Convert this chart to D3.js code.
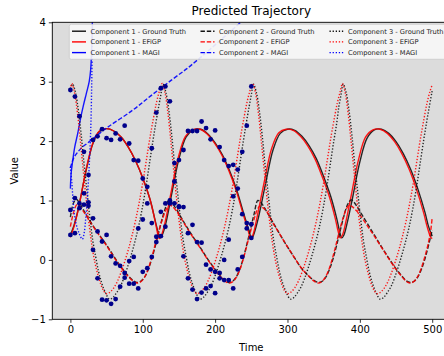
<!DOCTYPE html>
<html>
<head>
<meta charset="utf-8">
<script src="https://cdn.jsdelivr.net/npm/d3@7/dist/d3.min.js"></script>
<style>
  body { margin: 0; background: #fff; }
  text { font-family: "DejaVu Sans", sans-serif; }
</style>
</head>
<body>
<svg id="chart" width="444" height="356"></svg>
<script>
// ---- data ----
const xTicks = [0, 100, 200, 300, 400, 500];
const yTicks = [-1, 0, 1, 2, 3, 4];

// observation times and noisy observations of the three components
const obsTimes = [0, 6.25, 12.5, 18.75, 25, 31.25, 37.5, 43.75, 50, 56.25, 62.5, 68.75, 75, 81.25, 87.5,
  93.75, 100, 106.25, 112.5, 118.75, 125, 131.25, 137.5, 143.75, 150, 156.25, 162.5, 168.75, 175,
  181.25, 187.5, 193.75, 200, 206.25, 212.5, 218.75, 225, 231.25, 237.5, 243.75, 250];
const obs1 = [0.42, 0.45, 0.87, 1.12, 1.43, 2.02, 2.08, 2.2, 2.05, 2.02, 2.13, 2.03, 2.26, 1.96, 1.68,
  1.67, 1.37, 0.95, 0.62, 0.39, 0.4, 0.56, 1.0, 1.32, 1.68, 1.85, 2.17, 2.17, 2.17,
  2.33, 2.22, 2.03, 2.18, 1.9, 1.68, 1.58, 1.6, 1.2, 0.77, 0.62, 0.37];
const obs2 = [0.84, 1.04, 0.95, 0.93, 0.97, 0.7, 0.48, 0.31, 0.42, 0.06, -0.06, -0.1, -0.22, -0.4, -0.4,
  -0.48, -0.2, -0.14, 0.05, 0.3, 0.81, 0.95, 0.95, 0.95, 0.89, 0.89, 0.45, 0.59, 0.3,
  0.29, -0.08, -0.16, -0.2, -0.31, -0.34, -0.34, -0.48, -0.16, 0.05, 0.53, 0.6];
const obs3 = [2.86, 2.75, 2.42, 1.82, 0.91, 0.17, -0.31, -0.67, -0.68, -0.74, -0.66, -0.45, -0.3, -0.02, 0.05,
  0.53, 0.68, 1.23, 1.88, 2.48, 2.89, 2.92, 2.67, 1.63, 0.9, 0.06, -0.31, -0.5, -0.66,
  -0.55, -0.48, -0.44, -0.56, -0.22, 0.0, 0.34, 1.07, 1.52, 1.82, 2.26, 2.92];

// ground truth trajectories [time, value]
const truth1 = [[0,0.42],[5,0.58],[10,0.81],[15,1.1],[20,1.41],[25,1.68],[30,1.92],[35,2.07],[40,2.16],[50,2.21],
  [60,2.17],[70,2.07],[80,1.9],[90,1.67],[100,1.38],[110,1.02],[118,0.62],[122,0.43],[124,0.37],[127,0.42],
  [132,0.62],[140,1.11],[150,1.7],[160,2.07],[170,2.19],[180,2.2],[190,2.12],[200,1.97],[210,1.77],[220,1.5],
  [230,1.17],[240,0.76],[246,0.52],[249,0.4],[251,0.37],[254,0.45],[260,0.72],[270,1.3],[280,1.85],[290,2.13],
  [300,2.2],[310,2.18],[320,2.08],[330,1.92],[340,1.7],[350,1.4],[360,1.06],[368,0.7],[372,0.48],[375,0.37],
  [378,0.42],[383,0.65],[390,1.05],[400,1.65],[410,2.05],[420,2.19],[430,2.2],[440,2.13],[450,1.99],[460,1.79],
  [470,1.53],[480,1.2],[490,0.8],[495,0.56],[500,0.4]];
const truth2 = [[0,0.72],[4,0.95],[8,1.02],[12,0.97],[20,0.8],[30,0.6],[40,0.42],[50,0.25],[60,0.06],[70,-0.12],
  [80,-0.27],[87,-0.35],[92,-0.38],[97,-0.36],[102,-0.3],[107,-0.18],[112,0.0],[117,0.22],[122,0.46],[127,0.7],
  [132,0.9],[136,1.01],[140,0.97],[150,0.78],[160,0.57],[170,0.38],[180,0.2],[190,0.01],[200,-0.16],[208,-0.28],
  [214,-0.35],[219,-0.38],[224,-0.36],[229,-0.29],[234,-0.16],[239,0.03],[244,0.27],[249,0.52],[254,0.78],[259,1.0],
  [263,0.97],[270,0.84],[280,0.63],[290,0.42],[300,0.22],[310,0.03],[320,-0.15],[330,-0.28],[337,-0.35],[343,-0.38],
  [348,-0.36],[353,-0.29],[358,-0.16],[363,0.02],[368,0.25],[373,0.5],[378,0.74],[383,0.93],[388,1.01],[392,0.97],
  [400,0.82],[410,0.62],[420,0.42],[430,0.22],[440,0.03],[450,-0.15],[458,-0.27],[464,-0.35],[470,-0.38],[475,-0.36],
  [480,-0.29],[485,-0.16],[490,0.02],[495,0.25],[500,0.5]];
const truth3 = [[0,2.88],[3,2.96],[7,2.82],[11,2.52],[15,2.1],[19,1.6],[23,1.15],[27,0.7],[31,0.32],[35,0.05],
  [39,-0.2],[43,-0.38],[48,-0.54],[54,-0.66],[59,-0.63],[64,-0.55],[69,-0.45],[74,-0.3],[79,-0.12],[84,0.08],
  [89,0.3],[94,0.55],[99,0.85],[104,1.2],[109,1.6],[114,2.0],[118,2.3],[122,2.58],[125,2.78],[128,2.96],
  [132,2.82],[136,2.52],[140,2.1],[144,1.6],[148,1.15],[152,0.7],[156,0.32],[160,0.05],[164,-0.2],[168,-0.38],
  [173,-0.54],[179,-0.66],[184,-0.63],[189,-0.55],[194,-0.45],[199,-0.3],[204,-0.12],[209,0.08],[214,0.3],[219,0.55],
  [224,0.85],[229,1.2],[234,1.6],[239,2.0],[243,2.3],[247,2.58],[250,2.78],[253,2.96],[257,2.82],[261,2.52],
  [265,2.1],[269,1.6],[273,1.15],[277,0.7],[281,0.32],[285,0.05],[289,-0.2],[293,-0.38],[298,-0.54],[304,-0.66],
  [309,-0.63],[314,-0.55],[319,-0.45],[324,-0.3],[329,-0.12],[334,0.08],[339,0.3],[344,0.55],[349,0.85],[354,1.2],
  [359,1.6],[364,2.0],[368,2.3],[371,2.58],[374,2.78],[377,2.96],[381,2.82],[385,2.52],[389,2.1],[393,1.6],
  [397,1.15],[401,0.7],[405,0.32],[409,0.05],[413,-0.2],[417,-0.38],[422,-0.54],[428,-0.66],[433,-0.63],[438,-0.55],
  [443,-0.45],[448,-0.3],[453,-0.12],[458,0.08],[463,0.3],[468,0.55],[473,0.85],[478,1.2],[483,1.6],[488,2.0],
  [492,2.3],[496,2.58],[500,2.85]];

// EFiGP fits
const efigp1 = [[0,0.38],[5,0.56],[10,0.8],[15,1.1],[20,1.42],[25,1.7],[30,1.93],[35,2.08],[40,2.17],[50,2.21],
  [60,2.17],[70,2.07],[80,1.9],[90,1.67],[100,1.38],[110,1.02],[118,0.6],[121,0.42],[123,0.36],[126,0.42],
  [131,0.64],[139,1.13],[149,1.72],[159,2.08],[169,2.19],[179,2.2],[189,2.12],[199,1.97],[209,1.77],[219,1.5],
  [229,1.17],[239,0.76],[245,0.52],[248,0.4],[250,0.36],[253,0.45],[258,0.72],[268,1.32],[278,1.87],[288,2.14],
  [298,2.2],[308,2.18],[318,2.08],[328,1.92],[338,1.7],[348,1.4],[358,1.06],[366,0.7],[370,0.48],[373,0.37],
  [376,0.42],[381,0.66],[388,1.08],[398,1.68],[408,2.07],[418,2.19],[428,2.2],[438,2.13],[448,1.99],[458,1.79],
  [468,1.53],[478,1.2],[488,0.8],[493,0.56],[498,0.38],[500,0.36]];
const efigp2 = [[0,0.56],[4,0.78],[9,0.93],[13,0.9],[20,0.78],[30,0.59],[40,0.41],[50,0.24],[60,0.05],[70,-0.13],
  [80,-0.28],[87,-0.36],[92,-0.39],[97,-0.37],[102,-0.3],[107,-0.17],[112,0.02],[117,0.25],[122,0.48],[127,0.68],
  [132,0.84],[137,0.92],[141,0.9],[150,0.76],[160,0.56],[170,0.37],[180,0.19],[190,0.0],[200,-0.17],[208,-0.29],
  [214,-0.36],[219,-0.39],[224,-0.37],[229,-0.3],[234,-0.17],[239,0.02],[244,0.25],[249,0.48],[254,0.69],[258,0.84],
  [262,0.91],[266,0.88],[272,0.8],[280,0.62],[290,0.42],[300,0.22],[310,0.03],[320,-0.15],[330,-0.28],[337,-0.36],
  [342,-0.39],[347,-0.37],[352,-0.3],[357,-0.17],[362,0.02],[367,0.25],[372,0.5],[377,0.71],[381,0.85],[385,0.92],
  [389,0.9],[395,0.83],[400,0.76],[410,0.58],[420,0.4],[430,0.21],[440,0.02],[450,-0.16],[458,-0.28],[464,-0.36],
  [469,-0.39],[474,-0.37],[479,-0.3],[484,-0.17],[489,0.02],[494,0.25],[498,0.5],[500,0.72]];
const efigp3 = [[0,2.87],[2,2.97],[6,2.8],[10,2.45],[14,1.98],[18,1.48],[22,1.0],[26,0.58],[30,0.22],[34,-0.05],
  [38,-0.25],[42,-0.41],[46,-0.52],[50,-0.57],[55,-0.54],[60,-0.47],[65,-0.36],[70,-0.21],[75,-0.03],[80,0.17],
  [85,0.4],[90,0.66],[95,0.96],[100,1.3],[105,1.68],[110,2.06],[115,2.4],[119,2.65],[123,2.84],[127,2.97],
  [131,2.8],[135,2.45],[139,1.98],[143,1.48],[147,1.0],[151,0.58],[155,0.22],[159,-0.05],[163,-0.25],[167,-0.41],
  [171,-0.52],[175,-0.57],[180,-0.54],[185,-0.47],[190,-0.36],[195,-0.21],[200,-0.03],[205,0.17],[210,0.4],[215,0.66],
  [220,0.96],[225,1.3],[230,1.68],[235,2.06],[240,2.4],[244,2.65],[248,2.84],[252,2.97],[256,2.8],[260,2.45],
  [264,1.98],[268,1.48],[272,1.0],[276,0.58],[280,0.22],[284,-0.05],[288,-0.25],[292,-0.41],[296,-0.52],[300,-0.57],
  [305,-0.54],[310,-0.47],[315,-0.36],[320,-0.21],[325,-0.03],[330,0.17],[335,0.4],[340,0.66],[345,0.96],[350,1.3],
  [355,1.68],[360,2.06],[365,2.4],[369,2.65],[373,2.84],[376,2.97],[380,2.8],[384,2.45],[388,1.98],[392,1.48],
  [396,1.0],[400,0.58],[404,0.22],[408,-0.05],[412,-0.25],[416,-0.41],[420,-0.52],[424,-0.57],[429,-0.54],[434,-0.47],
  [439,-0.36],[444,-0.21],[449,-0.03],[454,0.17],[459,0.4],[464,0.66],[469,0.96],[474,1.3],[479,1.68],[484,2.06],
  [489,2.4],[493,2.65],[497,2.84],[500,2.95]];

// MAGI fits (they leave the plot early)
const magi1 = [[0,1.2],[1,1.45],[3,1.65],[6,1.9],[10,2.12],[14,2.38],[18,2.6],[22,2.8],[26,3.0],[28,3.2],[29.5,3.6],[30.5,4.1],[31,4.4]];
const magi2 = [[0,1.55],[4,1.7],[8,1.78],[15,1.88],[25,1.98],[50,2.22],[86,2.52],[113,2.78],[140,3.03],[161,3.22],[177,3.38],[200,3.62],[239,4.04],[250,4.16]];
const magi3 = [[0,1.57],[2,1.3],[5,0.82],[8,0.6],[12,0.45],[16.5,0.35],[19,0.45],[21,0.67],[23,0.95],[25,1.35],[27,1.85],[28.5,2.35],[29.5,3.0],[30.3,3.7],[31,4.4]];

const labels = ['Component 1 - Ground Truth', 'Component 1 - EFiGP', 'Component 1 - MAGI',
  'Component 2 - Ground Truth', 'Component 2 - EFiGP', 'Component 2 - MAGI',
  'Component 3 - Ground Truth', 'Component 3 - EFiGP', 'Component 3 - MAGI'];

// ---- layout ----
const W = 444, H = 356;
const plot = { left: 52.3, right: 450.3, top: 22.3, bottom: 319.3 };

const x = d3.scaleLinear().domain([-25, 525]).range([plot.left, plot.right]);
const y = d3.scaleLinear().domain([-1, 4]).range([plot.bottom, plot.top]);

const svg = d3.select('#chart');

svg.append('rect')
  .attr('x', plot.left).attr('y', plot.top)
  .attr('width', plot.right - plot.left).attr('height', plot.bottom - plot.top)
  .attr('fill', '#dcdcdc');

svg.append('defs').append('clipPath').attr('id', 'clip')
  .append('rect')
  .attr('x', plot.left).attr('y', plot.top)
  .attr('width', plot.right - plot.left).attr('height', plot.bottom - plot.top);

const dashes = { solid: null, dashed: '4.4,1.9', dotted: '1.3,1.8' };
const colors = { truth: '#111111', efigp: '#ff0000', magi: '#0000ff' };

const series = [
  { data: truth1, color: colors.truth, dash: 'solid' },
  { data: efigp1, color: colors.efigp, dash: 'solid' },
  { data: magi1, color: colors.magi, dash: 'solid' },
  { data: truth2, color: colors.truth, dash: 'dashed' },
  { data: efigp2, color: colors.efigp, dash: 'dashed' },
  { data: magi2, color: colors.magi, dash: 'dashed' },
  { data: truth3, color: colors.truth, dash: 'dotted' },
  { data: efigp3, color: colors.efigp, dash: 'dotted' },
  { data: magi3, color: colors.magi, dash: 'dotted' }
];
series.forEach((s, i) => { s.label = labels[i]; });

const line = d3.line()
  .x(d => x(d[0]))
  .y(d => y(d[1]))
  .curve(d3.curveCatmullRom.alpha(0.5));

const lines = svg.append('g').attr('clip-path', 'url(#clip)');

lines.selectAll('path.series')
  .data(series)
  .enter().append('path')
  .attr('class', 'series')
  .attr('d', d => line(d.data))
  .attr('fill', 'none')
  .attr('stroke', d => d.color)
  .attr('stroke-width', 1.4)
  .attr('stroke-opacity', 0.9)
  .attr('stroke-dasharray', d => dashes[d.dash]);

// observations
const points = [];
[obs1, obs2, obs3].forEach(arr => {
  arr.forEach((v, i) => points.push([obsTimes[i], v]));
});
lines.selectAll('circle.obs')
  .data(points)
  .enter().append('circle')
  .attr('class', 'obs')
  .attr('cx', d => x(d[0]))
  .attr('cy', d => y(d[1]))
  .attr('r', 2.4)
  .attr('fill', '#00008b');

// frame
svg.append('rect')
  .attr('x', plot.left).attr('y', plot.top)
  .attr('width', plot.right - plot.left).attr('height', plot.bottom - plot.top)
  .attr('fill', 'none').attr('stroke', '#000').attr('stroke-width', 0.9);

// axes
const xAxis = d3.axisBottom(x).tickValues(xTicks).tickSizeInner(3.5).tickSizeOuter(0).tickPadding(3);
const yAxis = d3.axisLeft(y).tickValues(yTicks).tickSizeInner(3.5).tickSizeOuter(0).tickPadding(3)
  .tickFormat(d => d < 0 ? '\u2212' + Math.abs(d) : d);

const gx = svg.append('g').attr('transform', 'translate(0,' + plot.bottom + ')').call(xAxis);
const gy = svg.append('g').attr('transform', 'translate(' + plot.left + ',0)').call(yAxis);
[gx, gy].forEach(g => {
  g.select('.domain').remove();
  g.selectAll('text').attr('font-size', 10).attr('fill', '#000')
    .attr('font-family', '"DejaVu Sans", sans-serif');
  g.selectAll('line').attr('stroke', '#000').attr('stroke-width', 0.8);
});

// titles
svg.append('text').attr('x', (plot.left + plot.right) / 2).attr('y', 15)
  .attr('text-anchor', 'middle').attr('font-size', 12).text('Predicted Trajectory');
svg.append('text').attr('x', (plot.left + plot.right) / 2).attr('y', 351)
  .attr('text-anchor', 'middle').attr('font-size', 10).text('Time');
svg.append('text')
  .attr('transform', 'translate(18,' + ((plot.top + plot.bottom) / 2) + ') rotate(-90)')
  .attr('text-anchor', 'middle').attr('font-size', 10).text('Value');

// legend
const legend = svg.append('g');
legend.append('rect')
  .attr('x', 69.3).attr('y', 24.3).attr('width', 400).attr('height', 35)
  .attr('rx', 2).attr('fill', '#f7f7f7').attr('fill-opacity', 0.9)
  .attr('stroke', '#cccccc').attr('stroke-width', 0.8);

const colX = [72, 200.5, 329.5];
const rowY = [31.2, 41.9, 52.6];
const items = legend.selectAll('g.item')
  .data(series)
  .enter().append('g')
  .attr('class', 'item')
  .attr('transform', (d, i) => 'translate(' + colX[Math.floor(i / 3)] + ',' + rowY[i % 3] + ')');
items.append('line')
  .attr('x1', 0).attr('x2', 14).attr('y1', 0).attr('y2', 0)
  .attr('stroke', d => d.color).attr('stroke-width', 1.4)
  .attr('stroke-dasharray', d => dashes[d.dash]);
items.append('text')
  .attr('x', 18.5).attr('y', 2.4)
  .attr('font-size', 6.7).attr('fill', '#222')
  .text(d => d.label);
</script>
</body>
</html>
